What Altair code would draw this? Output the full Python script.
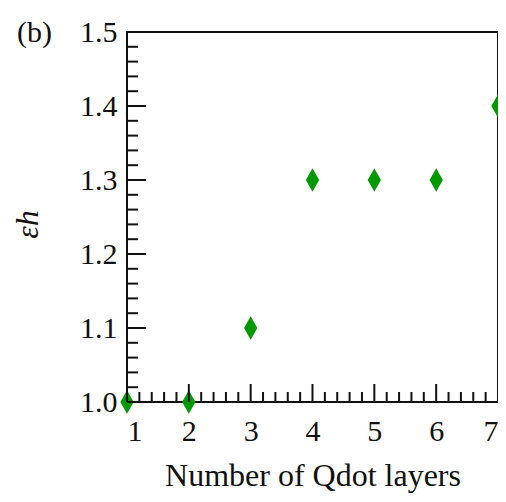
import altair as alt
import pandas as pd

layers = [1, 2, 3, 4, 5, 6, 7]
eps_h = [1.0, 1.0, 1.1, 1.3, 1.3, 1.3, 1.4]

x_major = [1, 2, 3, 4, 5, 6, 7]
y_major = [1.0, 1.1, 1.2, 1.3, 1.4, 1.5]
x_minor = [round(a + b, 2) for a in range(1, 7) for b in (0.2, 0.4, 0.6, 0.8)]
y_minor = [round(1.0 + 0.1 * i + d, 2) for i in range(5) for d in (0.02, 0.04, 0.06, 0.08)]

FONT = "Liberation Serif"
xs = alt.Scale(domain=[1, 7], nice=False, zero=False)
ys = alt.Scale(domain=[1.0, 1.5], nice=False, zero=False)

df = pd.DataFrame({"n": layers, "e": eps_h})

diamond = "M0,-1L0.56,0L0,1L-0.56,0Z"

xaxis = alt.Axis(
    title="Number of Qdot layers", values=x_major, format="d",
    ticks=False, tickSize=0, domain=False, grid=False, labelPadding=14,
    labelFont=FONT, labelFontSize=30, labelColor="#111",
    titleFont=FONT, titleFontSize=32, titleFontWeight="normal",
    titleColor="#111", titlePadding=14)
yaxis = alt.Axis(
    title="εh", values=y_major, format=".1f",
    ticks=False, tickSize=0, domain=False, grid=False, labelPadding=10,
    labelFont=FONT, labelFontSize=30, labelColor="#111",
    titleFont=FONT, titleFontSize=32, titleFontWeight="normal",
    titleFontStyle="italic", titleColor="#111", titlePadding=35,
    titleY=192)

points = alt.Chart(df).mark_point(
    shape=diamond, filled=True, size=560, color="#009900", opacity=1, clip=False
).encode(
    x=alt.X("n:Q", scale=xs, axis=xaxis),
    y=alt.Y("e:Q", scale=ys, axis=yaxis),
)

def yticks(vals, length):
    return alt.Chart(pd.DataFrame({"e": vals})).mark_rule(
        color="#111", strokeWidth=2
    ).encode(y=alt.Y("e:Q", scale=ys), x=alt.value(0), x2=alt.value(length))

def xticks(vals, length):
    return alt.Chart(pd.DataFrame({"n": vals})).mark_rule(
        color="#111", strokeWidth=2
    ).encode(x=alt.X("n:Q", scale=xs), y=alt.value(370), y2=alt.value(370 - length))

label = alt.Chart(pd.DataFrame({"t": ["(b)"]})).mark_text(
    font=FONT, fontSize=30, align="left", baseline="alphabetic", color="#111"
).encode(text="t:N", x=alt.value(-110), y=alt.value(10))

chart = alt.layer(
    points, yticks(y_major, 19), yticks(y_minor, 11),
    xticks(x_major, 18), xticks(x_minor, 10), label
).properties(
    width=371, height=370,
    autosize=alt.AutoSizeParams(type="none"),
    padding={"left": 119, "top": 24, "right": 0, "bottom": 92},
).configure_view(stroke="#111", strokeWidth=2)

chart.save("out.html", embed_options={"renderer": "svg", "actions": False})
